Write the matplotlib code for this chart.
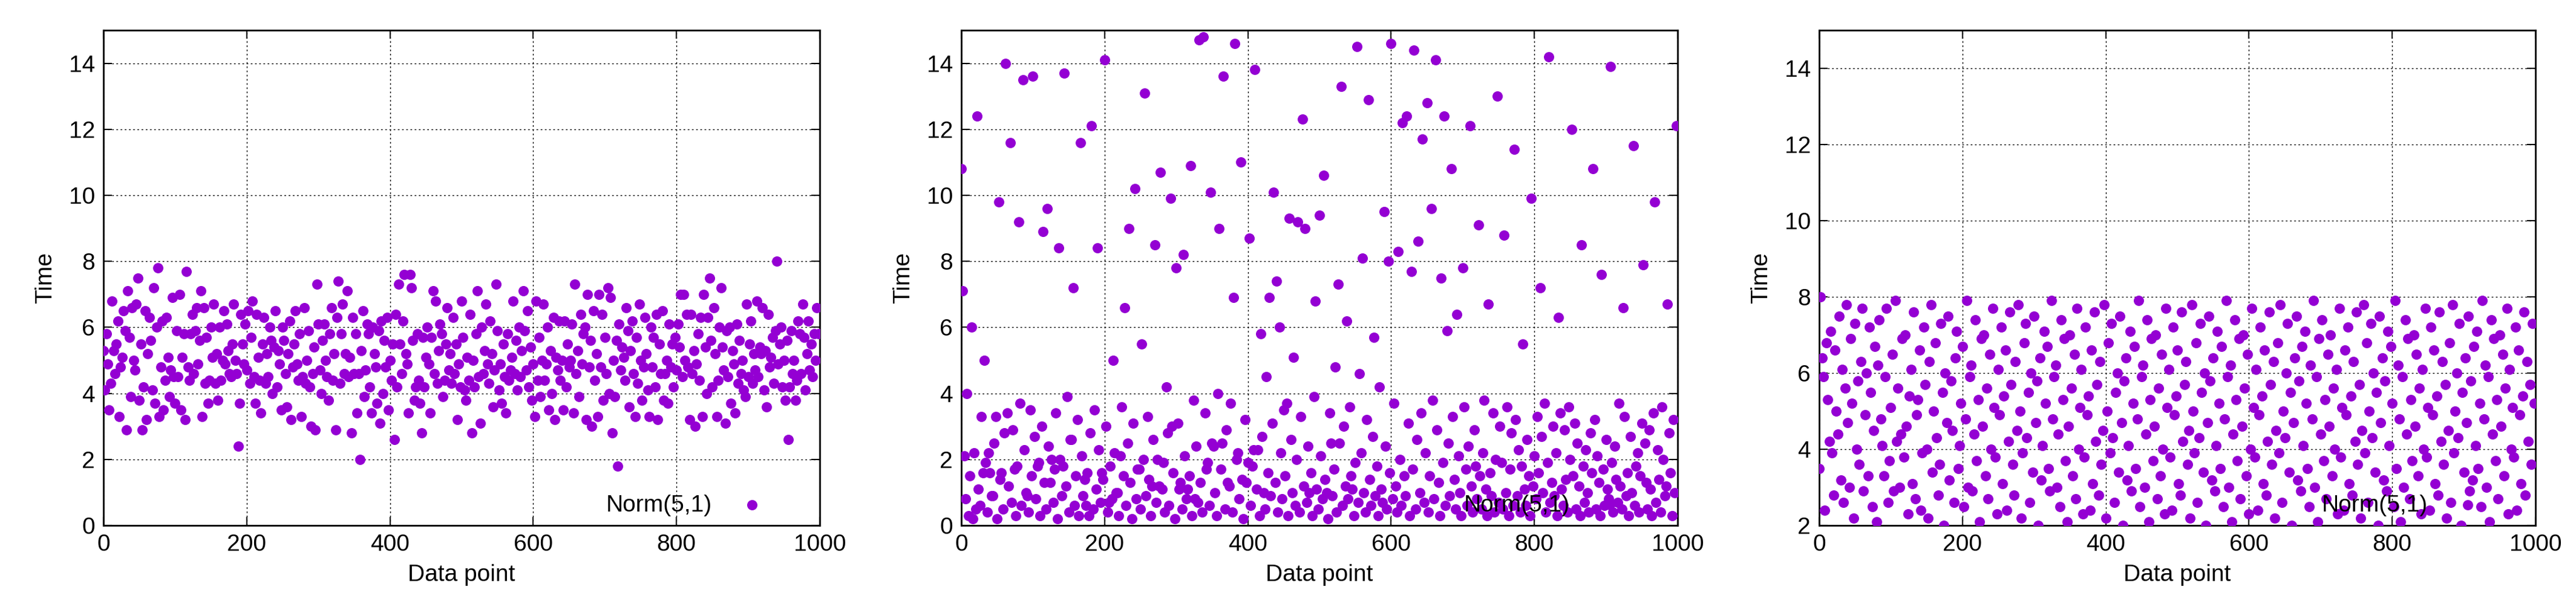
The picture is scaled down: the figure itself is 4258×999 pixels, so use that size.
import matplotlib
matplotlib.use("Agg")
import matplotlib.pyplot as plt
import numpy as np

# Panel 1: roughly Normal(5,1)
y1 = [5.3,4.1,5.8,4.9,3.5,4.3,6.8,5.3,4.6,5.5,6.2,3.3,4.8,5.1,6.5,5.9,2.9,7.1,5.7,3.9,
      6.6,5.0,4.7,6.7,7.5,3.8,5.5,2.9,4.2,6.5,3.2,5.2,6.3,5.6,4.1,7.2,3.7,6.0,7.8,3.3,
      4.8,6.2,3.5,4.4,6.3,5.1,3.9,4.7,6.9,4.5,3.7,5.9,4.5,7.0,3.5,5.1,5.8,3.2,7.7,4.8,
      4.4,5.8,6.4,4.6,5.9,6.6,4.9,5.6,7.1,3.3,6.6,4.3,5.7,3.7,4.4,6.0,5.1,6.7,4.3,5.2,
      3.8,6.0,4.4,5.0,6.5,4.9,6.1,5.3,4.6,4.5,5.5,6.7,5.0,4.6,2.4,3.7,6.4,5.5,4.9,6.1,
      4.7,6.5,4.3,5.7,6.8,4.5,3.7,6.4,5.1,4.4,3.4,5.5,6.3,4.3,5.2,4.5,6.0,5.6,4.0,5.4,
      6.5,4.2,5.3,4.9,3.5,6.0,5.6,4.6,3.6,5.2,6.2,3.2,4.8,5.5,6.5,4.9,4.4,5.8,3.3,4.5,
      6.6,4.3,5.0,5.9,4.2,3.0,4.6,5.4,2.9,7.3,6.1,4.7,4.0,5.6,6.1,5.0,4.5,3.8,5.8,6.6,
      4.4,5.2,2.9,6.3,7.4,4.3,5.8,6.7,4.6,5.2,7.1,4.5,5.1,2.8,6.3,4.6,5.8,3.4,4.6,2.0,
      5.3,6.5,3.9,4.7,6.1,5.8,4.2,3.4,6.0,5.2,4.8,3.7,5.9,3.1,6.2,4.0,5.6,4.8,6.3,3.5,
      5.0,4.4,5.5,2.6,6.4,4.2,7.3,5.5,4.6,6.2,7.6,5.2,4.9,3.4,7.6,7.2,5.6,3.8,4.2,5.8,
      4.4,3.7,2.8,5.7,4.2,5.1,6.0,4.9,3.4,5.7,7.1,4.6,6.8,4.3,5.3,6.1,5.8,3.9,4.4,5.5,
      6.6,4.7,5.2,4.3,6.3,4.6,5.5,3.2,4.9,4.2,6.8,5.7,4.1,3.8,5.1,4.4,6.4,2.8,5.0,4.2,
      5.8,7.1,4.5,3.1,6.0,4.6,5.3,6.7,4.9,4.3,6.2,5.2,3.6,4.7,7.3,5.9,4.1,4.9,3.7,5.5,
      4.5,3.4,5.8,4.4,4.7,5.1,6.8,4.6,5.6,4.1,6.0,4.5,5.3,7.1,5.9,4.7,6.5,4.2,5.4,3.8,
      4.9,3.3,6.8,4.4,5.7,3.9,5.0,6.7,4.4,4.9,6.0,3.5,5.3,4.0,6.3,3.2,5.1,4.7,6.2,4.4,
      5.0,3.5,6.2,4.2,5.5,4.8,5.0,6.1,3.4,7.3,4.6,5.3,3.9,6.4,4.9,5.8,6.0,3.2,7.0,4.8,
      5.6,3.0,6.5,4.4,5.2,3.3,7.0,4.8,6.4,3.8,5.7,4.6,7.2,4.0,6.9,2.8,5.0,3.9,5.6,1.8,
      6.1,4.7,5.4,5.1,4.4,6.6,5.9,3.6,5.3,6.2,4.6,3.3,5.7,4.3,6.7,5.0,3.8,4.8,6.3,5.2,
      4.1,3.3,6.0,4.8,5.7,4.2,6.4,3.2,5.5,4.6,6.5,3.8,4.6,5.0,3.7,6.1,4.8,5.5,4.2,5.7,
      4.7,6.1,5.4,7.0,4.5,7.0,5.0,6.4,4.8,3.2,6.4,4.6,5.3,3.0,4.9,5.8,4.4,6.3,3.3,7.0,
      5.4,4.0,6.3,7.5,5.6,4.2,6.6,5.2,3.3,4.4,6.0,7.2,5.4,4.7,3.1,5.9,4.5,6.0,3.7,5.3,
      4.9,3.4,6.1,4.3,5.6,4.6,5.0,4.1,3.9,6.7,4.5,5.5,6.2,4.3,5.2,4.7,6.8,4.5,5.4,5.2,
      6.6,4.1,5.3,3.6,6.4,4.8,5.1,5.7,4.3,5.9,8.0,4.9,5.5,6.0,4.2,5.0,3.8,5.6,2.6,4.2,
      5.9,4.6,5.0,3.8,4.4,6.2,5.8,4.6,6.7,5.7,4.1,5.2,6.2,4.7,5.5,4.5,5.8,5.0,6.6,5.8]

# Panel 2: heavy-tailed, mostly below 4
y2 = [10.8,7.1,2.1,0.8,4.0,0.3,1.5,6.0,0.2,2.2,0.5,12.4,1.1,0.6,3.3,1.6,5.0,1.9,0.4,2.2,
      1.6,0.9,0.9,2.5,3.3,0.2,9.8,1.4,1.6,0.5,2.8,14.0,3.4,1.2,11.6,0.7,2.9,1.7,0.3,1.8,
      9.2,3.7,0.6,13.5,2.3,1.0,0.9,0.4,3.5,1.5,13.6,2.7,0.8,1.8,1.9,0.3,3.0,8.9,1.3,0.5,
      9.6,2.4,1.3,2.0,0.7,1.7,3.4,0.2,8.4,2.0,0.9,1.8,13.7,1.2,3.9,0.4,2.6,2.6,7.2,0.6,
      1.5,3.2,0.3,11.6,2.1,0.9,1.4,0.6,1.6,0.3,2.8,12.1,0.5,3.5,1.1,8.4,2.3,0.7,1.6,1.4,
      14.1,3.0,0.4,0.7,1.8,0.8,5.0,2.2,1.0,1.0,0.3,2.1,3.6,1.5,6.6,0.6,2.5,9.0,1.3,0.2,
      3.1,10.2,0.8,1.7,1.7,0.5,5.5,2.0,13.1,0.9,3.3,1.4,0.3,1.2,2.6,8.5,0.7,2.0,1.2,10.7,
      1.1,1.9,0.4,4.2,2.8,0.6,9.9,3.0,1.6,0.2,7.8,3.1,1.1,1.3,0.5,8.2,2.1,0.8,1.1,1.5,
      10.9,0.3,3.8,0.8,2.4,0.7,14.7,1.3,0.4,14.8,3.4,1.7,1.9,0.6,10.1,2.5,2.4,1.0,0.3,4.0,
      9.0,1.7,2.5,13.6,0.5,2.9,1.3,1.2,3.7,0.4,6.9,14.6,2.0,2.2,0.8,11.0,1.4,0.2,3.2,1.3,
      1.9,8.7,0.6,1.8,2.3,13.8,1.1,2.3,0.3,5.8,2.7,1.0,0.5,4.5,1.6,6.9,0.9,3.1,10.1,1.3,
      7.4,0.4,6.0,2.2,0.8,3.5,1.5,3.7,0.3,9.3,2.6,1.0,5.1,0.6,2.0,9.2,0.4,3.3,12.3,1.2,
      9.0,0.7,2.4,1.0,1.6,0.3,3.9,6.8,1.1,0.5,9.4,2.1,0.8,10.6,1.4,1.0,0.2,3.4,2.5,0.9,
      1.7,4.8,0.4,7.3,2.5,13.3,0.6,3.0,1.2,6.2,0.8,3.6,1.5,1.1,0.3,1.9,14.5,0.7,4.6,2.2,
      8.1,1.0,0.4,3.2,12.9,1.4,0.6,2.7,5.7,0.9,1.8,0.3,4.2,1.1,0.7,9.5,2.4,0.5,8.0,1.6,
      14.6,0.8,3.7,1.2,0.4,8.3,2.0,0.6,12.2,1.5,0.9,12.4,3.1,0.3,7.7,1.7,14.4,0.5,2.6,8.6,
      1.0,3.4,11.7,0.7,2.2,12.8,0.4,1.5,9.6,3.8,0.8,14.1,2.9,1.3,0.3,7.5,1.9,12.4,0.6,5.9,
      2.5,0.9,10.8,3.3,1.4,0.5,6.4,2.1,1.0,0.3,7.8,3.6,1.7,0.6,2.4,12.1,1.2,0.4,2.9,1.8,
      0.8,9.1,1.5,0.5,2.2,3.8,1.1,0.3,6.7,1.6,0.9,3.4,0.4,2.0,13.0,0.7,3.0,1.9,0.5,8.8,
      1.0,3.6,0.3,1.7,2.8,0.6,11.4,3.2,0.9,2.3,0.4,1.8,5.5,1.1,0.6,2.6,1.5,0.3,9.9,1.2,
      2.1,0.8,3.3,1.6,7.2,2.7,1.0,3.7,0.4,1.9,14.2,0.7,1.3,3.0,0.9,2.2,0.3,6.3,3.4,1.1,
      0.6,2.9,1.4,0.4,3.6,2.0,12.0,1.5,3.1,0.5,2.5,1.2,0.3,8.5,1.8,0.7,2.3,1.0,0.4,2.8,
      1.6,10.8,3.2,0.5,2.1,1.3,0.3,7.6,1.7,0.6,2.6,1.1,0.8,13.9,1.9,0.4,2.4,1.4,0.7,3.7,
      1.2,0.5,6.6,3.3,0.9,1.6,0.3,2.7,1.0,11.5,0.6,1.8,2.2,0.4,1.5,3.1,7.9,2.5,1.3,0.5,
      2.9,1.1,0.3,3.4,9.8,0.7,2.3,1.4,0.4,3.6,2.0,0.9,1.2,6.7,2.8,1.6,0.3,3.2,1.0,12.1]

# Panel 3: roughly uniform between 2 and 8
y3 = [3.5,8.0,6.4,5.9,2.4,6.8,5.3,4.2,7.1,3.9,2.8,6.6,5.0,4.4,7.5,3.2,6.1,2.6,5.6,7.8,
      4.7,3.0,6.9,5.2,2.2,7.3,4.0,5.8,3.6,6.3,7.7,2.9,4.9,6.0,3.3,7.2,5.5,2.5,4.5,6.7,
      2.1,6.2,7.4,4.8,4.1,3.3,5.9,7.7,2.6,3.7,5.1,6.5,2.9,7.9,4.2,5.6,3.0,4.4,6.9,3.8,
      7.0,4.6,2.3,5.4,6.1,3.1,7.6,2.7,4.9,5.3,6.6,2.4,3.9,7.2,5.7,4.0,2.2,6.3,7.8,3.4,
      5.0,6.8,4.3,2.8,3.6,7.3,5.5,2.0,6.0,4.7,7.5,3.2,5.8,4.5,2.6,6.4,7.1,3.5,4.1,5.2,
      6.7,2.5,4.8,7.9,3.0,5.9,6.2,2.9,4.4,7.4,3.7,5.3,2.1,6.9,4.6,7.0,3.3,5.6,2.7,6.5,
      4.0,7.7,5.1,3.8,2.3,6.1,4.9,7.2,3.1,5.4,6.6,2.4,4.2,7.6,5.7,3.6,2.8,6.3,4.5,7.8,
      5.0,2.2,3.9,6.8,7.3,4.3,5.5,2.6,6.0,3.4,7.5,4.7,5.8,2.0,6.4,3.2,4.1,7.1,5.2,6.7,
      3.5,2.9,7.9,4.8,5.9,6.2,3.0,4.4,2.5,7.4,5.3,6.9,3.7,2.1,4.6,7.0,5.6,3.3,6.5,2.7,
      7.7,4.0,5.1,6.1,2.3,3.8,7.2,4.9,5.4,2.4,6.6,3.1,7.6,4.2,5.7,2.8,6.3,3.6,4.5,7.8,
      2.2,5.0,6.8,3.9,7.3,4.3,2.6,5.5,6.0,3.4,7.5,4.7,2.0,5.8,6.4,3.2,4.1,7.1,2.9,5.2,
      6.7,3.5,4.8,7.9,2.5,5.9,6.2,3.0,4.4,7.4,2.1,5.3,6.9,3.7,4.6,7.0,2.7,5.6,3.3,6.5,
      4.0,2.3,7.7,5.1,6.1,3.8,2.4,7.2,4.9,5.4,6.6,3.1,2.8,7.6,4.2,5.7,6.3,3.6,4.5,2.2,
      7.8,5.0,3.9,6.8,2.6,4.3,7.3,5.5,3.4,6.0,2.0,4.7,7.5,5.8,3.2,6.4,2.9,4.1,7.1,5.2,
      3.5,6.7,2.5,4.8,7.9,5.9,3.0,6.2,2.1,4.4,7.4,5.3,3.7,6.9,2.7,4.6,7.0,5.6,3.3,6.5,
      2.3,4.0,7.7,5.1,3.8,6.1,2.4,4.9,7.2,5.4,3.1,6.6,2.8,4.2,7.6,5.7,3.6,6.3,2.2,4.5,
      6.8,3.9,7.8,2.6,5.0,4.3,6.0,7.3,3.4,5.5,2.0,4.7,6.4,7.5,3.2,5.8,2.9,6.7,4.1,7.1,
      5.2,3.5,2.5,6.2,4.8,7.9,3.0,5.9,2.1,6.9,4.4,7.4,3.7,5.3,2.7,6.5,4.6,7.0,3.3,5.6,
      4.0,6.1,2.3,7.7,3.8,5.1,2.4,6.6,4.9,7.2,3.1,5.4,2.8,6.3,4.2,7.6,3.6,5.7,2.2,4.5,
      7.8,3.9,6.8,2.6,5.0,7.3,4.3,6.0,3.4,5.5,2.0,7.5,4.7,6.4,3.2,5.8,2.9,7.1,4.1,6.7,
      5.2,2.5,7.9,3.5,6.2,4.8,2.1,5.9,3.0,7.4,4.4,6.9,2.7,5.3,3.7,7.0,4.6,6.5,3.3,5.6,
      2.3,6.1,4.0,7.7,3.8,5.1,2.4,7.2,4.9,6.6,3.1,5.4,2.8,7.6,4.2,6.3,3.6,5.7,2.2,4.5,
      6.8,2.6,7.8,3.9,5.0,6.0,4.3,7.3,2.0,5.5,3.4,6.4,4.7,7.5,2.9,5.8,3.2,6.7,4.1,7.1,
      3.5,5.2,2.5,7.9,4.8,6.2,3.0,5.9,2.1,7.4,4.4,6.9,3.7,5.3,2.7,7.0,4.6,6.5,3.3,5.6,
      7.7,2.3,6.1,4.0,5.1,3.8,7.2,2.4,6.6,4.9,3.1,5.4,7.6,2.8,6.3,4.2,5.7,3.6,7.3,5.2]

series = [y1, y2, y3]
ylims = [(0, 15), (0, 15), (2, 15)]
yticks = [[0, 2, 4, 6, 8, 10, 12, 14], [0, 2, 4, 6, 8, 10, 12, 14], [2, 4, 6, 8, 10, 12, 14]]
xticks = [0, 200, 400, 600, 800, 1000]
label = "Norm(5,1)"
color = "#9400D3"

plt.rcParams['font.family'] = ['Liberation Sans', 'DejaVu Sans']
fig = plt.figure(figsize=(42.58, 9.99), dpi=100)
lefts = [171, 1589, 3007]
for i, ys in enumerate(series):
    ax = fig.add_axes([lefts[i] / 4258, 0.13, 1184 / 4258, 0.82])
    xs = np.arange(len(ys)) * (1000 / len(ys))
    ax.scatter(xs, ys, s=150, color=color, linewidths=0, label=label, zorder=3)
    ax.set_xlim(0, 1000)
    ax.set_ylim(*ylims[i])
    ax.set_xticks(xticks)
    ax.set_yticks(yticks[i])
    ax.grid(True, color='black', linestyle=(0, (2, 3)), linewidth=1)
    ax.tick_params(labelsize=28, direction='in', length=10, width=1.5, top=True, right=True, pad=10)
    for sp in ax.spines.values():
        sp.set_linewidth(2)
    ax.set_xlabel("Data point", fontsize=28, labelpad=10)
    ax.set_ylabel("Time", fontsize=28, labelpad=15)
    ax.legend(loc='lower right', frameon=False, fontsize=28, markerfirst=False,
              handlelength=1.0, handletextpad=1.2, borderaxespad=0.0,
              bbox_to_anchor=(0.935, 0.0), scatterpoints=1)
fig.savefig("out.png", dpi=100)
